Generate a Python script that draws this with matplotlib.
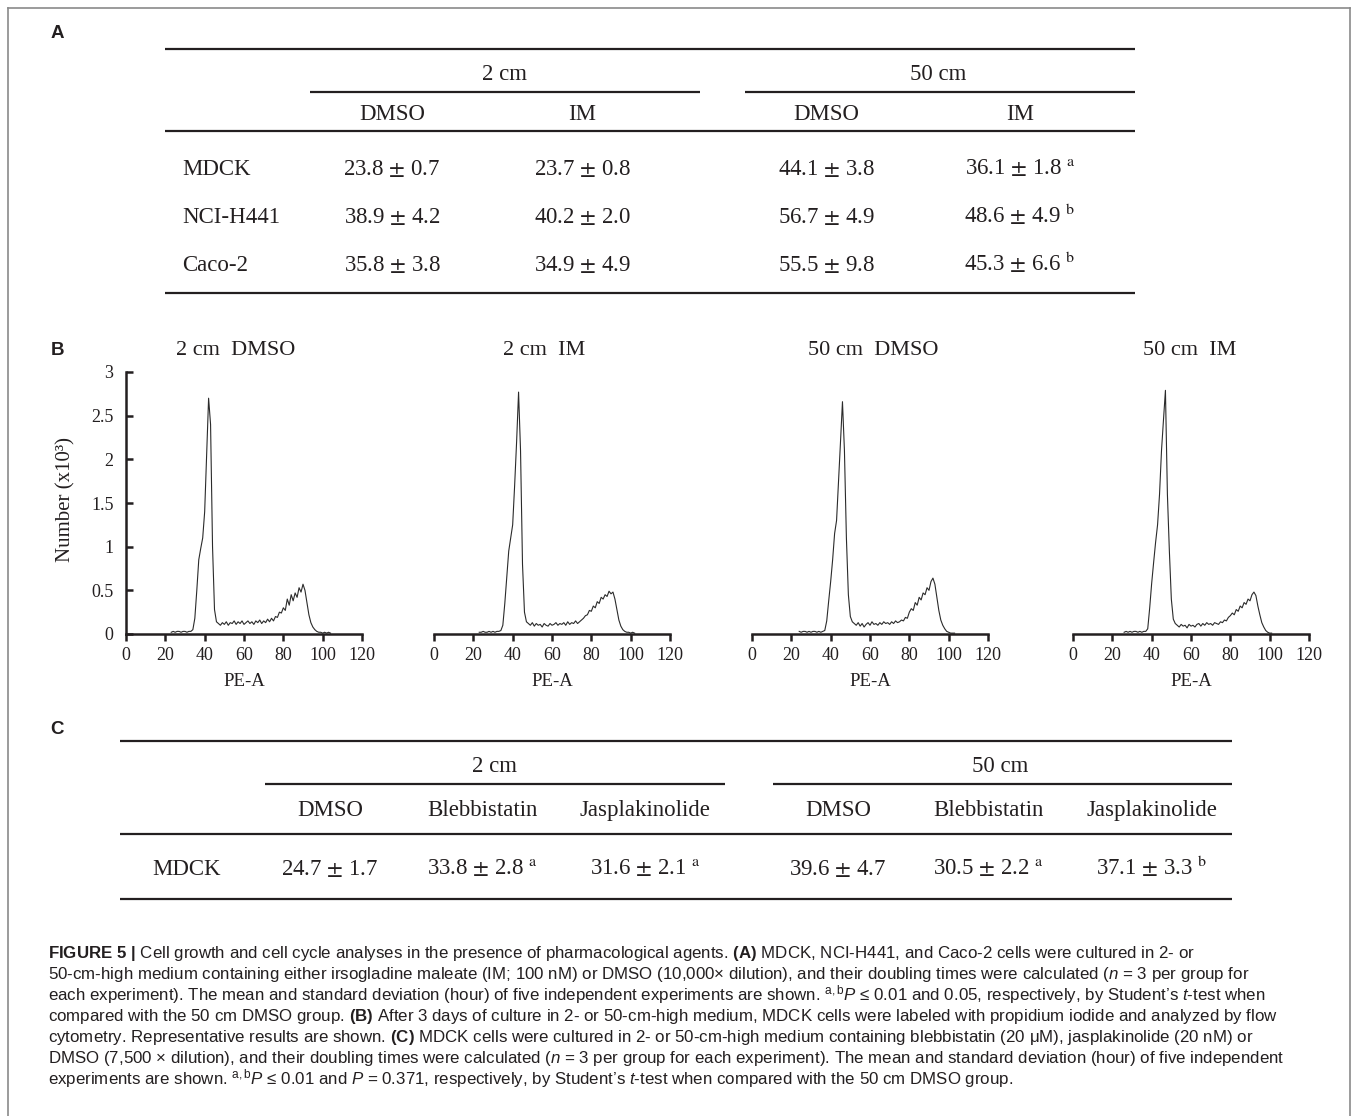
import numpy as np
import matplotlib
matplotlib.use('Agg')
from matplotlib import pyplot as plt
from matplotlib import font_manager
from matplotlib.lines import Line2D

W, H = 1357, 1116
ink = '#231f20'

# ---- A: doubling times (hour), mean and SD ----
cells_a = ['MDCK', 'NCI-H441', 'Caco-2']
heights = ['2 cm', '50 cm']
drugs_a = ['DMSO', 'IM', 'DMSO', 'IM']
means_a = [[23.8, 23.7, 44.1, 36.1],
           [38.9, 40.2, 56.7, 48.6],
           [35.8, 34.9, 55.5, 45.3]]
sds_a = [[0.7, 0.8, 3.8, 1.8],
         [4.2, 2.0, 4.9, 4.9],
         [3.8, 4.9, 9.8, 6.6]]
marks_a = [['', '', '', 'a'],
           ['', '', '', 'b'],
           ['', '', '', 'b']]

# ---- B: flow cytometry histograms (Number x10^3 vs PE-A) ----
hist_titles = ['2 cm  DMSO', '2 cm  IM', '50 cm  DMSO', '50 cm  IM']
pe_start = [23, 23, 24, 26]
counts_2dmso = [0.02, 0.03, 0.02, 0.03, 0.03, 0.02, 0.03, 0.03, 0.02, 0.03,
                0.03, 0.05, 0.18, 0.50, 0.85, 0.98, 1.10, 1.40, 2.05, 2.70,
                2.40, 1.00, 0.28, 0.14, 0.12, 0.10, 0.13, 0.11, 0.14, 0.10,
                0.13, 0.12, 0.15, 0.11, 0.14, 0.12, 0.15, 0.11, 0.13, 0.15,
                0.12, 0.14, 0.11, 0.15, 0.13, 0.16, 0.12, 0.15, 0.13, 0.17,
                0.14, 0.18, 0.15, 0.20, 0.19, 0.25, 0.24, 0.30, 0.27, 0.40,
                0.33, 0.45, 0.38, 0.47, 0.42, 0.53, 0.48, 0.57, 0.50, 0.36,
                0.22, 0.13, 0.08, 0.05, 0.03, 0.02, 0.02, 0.01, 0.02, 0.01,
                0.02, 0.01]
counts_2im = [0.02, 0.02, 0.03, 0.02, 0.02, 0.03, 0.02, 0.03, 0.02, 0.03,
              0.03, 0.04, 0.10, 0.35, 0.65, 0.95, 1.10, 1.25, 1.70, 2.20,
              2.77, 2.10, 0.80, 0.25, 0.14, 0.12, 0.10, 0.13, 0.09, 0.12,
              0.10, 0.11, 0.08, 0.12, 0.10, 0.09, 0.12, 0.10, 0.11, 0.13,
              0.10, 0.12, 0.11, 0.13, 0.10, 0.14, 0.11, 0.13, 0.12, 0.15,
              0.12, 0.14, 0.16, 0.18, 0.21, 0.22, 0.27, 0.26, 0.32, 0.30,
              0.37, 0.35, 0.42, 0.40, 0.45, 0.43, 0.49, 0.46, 0.48, 0.40,
              0.28, 0.16, 0.09, 0.05, 0.03, 0.02, 0.02, 0.01, 0.02, 0.01]
counts_50dmso = [0.03, 0.02, 0.03, 0.03, 0.02, 0.03, 0.02, 0.03, 0.03, 0.02,
                 0.03, 0.02, 0.03, 0.04, 0.15, 0.38, 0.60, 0.85, 1.15, 1.30,
                 1.75, 2.20, 2.66, 2.10, 1.10, 0.45, 0.20, 0.14, 0.12, 0.10,
                 0.13, 0.09, 0.12, 0.08, 0.11, 0.13, 0.10, 0.14, 0.11, 0.12,
                 0.10, 0.13, 0.11, 0.14, 0.12, 0.13, 0.11, 0.14, 0.12, 0.15,
                 0.13, 0.14, 0.16, 0.15, 0.19, 0.18, 0.25, 0.29, 0.27, 0.36,
                 0.33, 0.42, 0.39, 0.47, 0.45, 0.53, 0.50, 0.60, 0.64, 0.57,
                 0.42, 0.27, 0.16, 0.10, 0.06, 0.03, 0.02, 0.01, 0.01, 0.01]
counts_50im = [0.02, 0.03, 0.02, 0.03, 0.02, 0.03, 0.03, 0.02, 0.03, 0.02,
               0.03, 0.03, 0.06, 0.30, 0.58, 0.82, 1.05, 1.25, 1.60, 2.10,
               2.45, 2.79, 1.60, 0.95, 0.40, 0.17, 0.12, 0.10, 0.08, 0.11,
               0.09, 0.10, 0.07, 0.11, 0.09, 0.10, 0.08, 0.11, 0.12, 0.09,
               0.12, 0.10, 0.13, 0.11, 0.12, 0.10, 0.13, 0.12, 0.11, 0.14,
               0.13, 0.16, 0.15, 0.19, 0.21, 0.24, 0.22, 0.28, 0.26, 0.32,
               0.30, 0.36, 0.34, 0.40, 0.38, 0.45, 0.48, 0.44, 0.32, 0.22,
               0.13, 0.08, 0.04, 0.02, 0.01, 0.01]
hist_counts = [counts_2dmso, counts_2im, counts_50dmso, counts_50im]
y_ticks = [0, 0.5, 1, 1.5, 2, 2.5, 3]
y_ticklabels = ['0', '0.5', '1', '1.5', '2', '2.5', '3']
x_ticks = [0, 20, 40, 60, 80, 100, 120]

# ---- C: MDCK doubling times with blebbistatin / jasplakinolide ----
drugs_c = ['DMSO', 'Blebbistatin', 'Jasplakinolide'] * 2
means_c = [24.7, 33.8, 31.6, 39.6, 30.5, 37.1]
sds_c = [1.7, 2.8, 2.1, 4.7, 2.2, 3.3]
marks_c = ['', 'a', 'a', '', 'a', 'b']

caption = [
    r'$\mathbf{FIGURE\ 5\ |}$ Cell growth and cell cycle analyses in the presence of pharmacological agents. '
    r'$\mathbf{(A)}$ MDCK, NCI-H441, and Caco-2 cells were cultured in 2- or',
    r'50-cm-high medium containing either irsogladine maleate (IM; 100 nM) or DMSO (10,000× dilution), '
    r'and their doubling times were calculated ($n$ = 3 per group for',
    r'each experiment). The mean and standard deviation (hour) of five independent experiments are shown. '
    r'$^{\mathrm{a,b}}P$ ≤ 0.01 and 0.05, respectively, by Student’s $t$-test when',
    r'compared with the 50 cm DMSO group. $\mathbf{(B)}$ After 3 days of culture in 2- or 50-cm-high medium, '
    r'MDCK cells were labeled with propidium iodide and analyzed by flow',
    r'cytometry. Representative results are shown. $\mathbf{(C)}$ MDCK cells were cultured in 2- or '
    r'50-cm-high medium containing blebbistatin (20 μM), jasplakinolide (20 nM) or',
    r'DMSO (7,500 × dilution), and their doubling times were calculated ($n$ = 3 per group for each '
    r'experiment). The mean and standard deviation (hour) of five independent',
    r'experiments are shown. $^{\mathrm{a,b}}P$ ≤ 0.01 and $P$ = 0.371, respectively, by Student’s '
    r'$t$-test when compared with the 50 cm DMSO group.',
]

names = {f.name for f in font_manager.fontManager.ttflist}
cap_font = 'Liberation Sans Narrow' if 'Liberation Sans Narrow' in names else 'Liberation Sans'
plt.rcParams['font.family'] = ['Liberation Serif', 'DejaVu Serif']
plt.rcParams['mathtext.fontset'] = 'custom'
plt.rcParams['mathtext.rm'] = cap_font
plt.rcParams['mathtext.it'] = cap_font + ':italic'
plt.rcParams['mathtext.bf'] = cap_font + ':bold'

fig = plt.figure(figsize=(W / 100, H / 100), dpi=100)


def fx(px):
    return px / W


def fy(py):
    return 1 - py / H


def rule(x0, x1, y, lw=1.6, color=ink):
    fig.add_artist(Line2D([fx(x0), fx(x1)], [fy(y), fy(y)], transform=fig.transFigure,
                          color=color, lw=lw, solid_capstyle='butt'))


def put(x, y, s, size=16.5, **kw):
    kw.setdefault('ha', 'center')
    kw.setdefault('va', 'baseline')
    fig.text(fx(x), fy(y), s, fontsize=size, color=ink, math_fontfamily='stix', **kw)


def cell(m, sd, mk):
    s = f'{m:.1f} ' + r'$\pm$' + f' {sd:.1f}'
    if mk:
        s += r' $^{\mathrm{' + mk + '}}$'
    return s


# frame
frame = '#8a8a8a'
fig.add_artist(Line2D([fx(8), fx(8)], [fy(8), -0.05], transform=fig.transFigure, color=frame, lw=1.2))
fig.add_artist(Line2D([fx(1350), fx(1350)], [fy(8), -0.05], transform=fig.transFigure, color=frame, lw=1.2))
fig.add_artist(Line2D([fx(8), fx(1350)], [fy(8), fy(8)], transform=fig.transFigure, color=frame, lw=1.2))

# panel letters
for lab, y in zip(['A', 'B', 'C'], [33, 351, 729]):
    fig.text(fx(57), fy(y), lab, fontsize=13.5, family='Liberation Sans', weight='bold',
             color=ink, ha='center', va='center')

# ---- table A ----
col_a = [392, 582, 826, 1020]
rule(165, 1135, 49)
rule(310, 700, 92)
rule(745, 1135, 92)
rule(165, 1135, 131)
rule(165, 1135, 293)
put(505, 80, heights[0])
put(938, 80, heights[1])
for x, d in zip(col_a, drugs_a):
    put(x, 120, d)
for r, (name, y) in enumerate(zip(cells_a, [167, 215, 263])):
    put(182, y + 8, name, ha='left')
    for c, x in enumerate(col_a):
        put(x, y + 8, cell(means_a[r][c], sds_a[r][c], marks_a[r][c]))

# ---- histograms B ----
lefts = [126, 434, 752, 1073]
titles_x = [236, 544, 873, 1190]
for i in range(4):
    ax = fig.add_axes([fx(lefts[i]), fy(634), 236 / W, (634 - 372) / H])
    pe = pe_start[i] + np.arange(len(hist_counts[i]))
    ax.plot(pe, hist_counts[i], color='#2b2b2b', lw=0.8)
    ax.set_xlim(0, 120)
    ax.set_ylim(0, 3)
    for s in ['top', 'right']:
        ax.spines[s].set_visible(False)
    for s in ['left', 'bottom']:
        ax.spines[s].set_linewidth(1.8)
        ax.spines[s].set_color(ink)
    ax.set_xticks(x_ticks)
    ax.tick_params(axis='x', direction='out', length=5, width=1.8, labelsize=13,
                   pad=4, colors=ink)
    if i == 0:
        ax.set_yticks(y_ticks)
        ax.set_yticklabels(y_ticklabels)
        ax.tick_params(axis='y', direction='in', length=5, width=1.8, labelsize=13,
                       pad=9, colors=ink)
    else:
        ax.spines['left'].set_visible(False)
        ax.set_yticks([])
    ax.patch.set_visible(False)
    put(titles_x[i], 351, hist_titles[i], size=16, va='center')
    put(lefts[i] + 118, 681, 'PE-A', size=13.5, va='center')
put(66, 500, 'Number (x10³)', size=15, va='center', rotation=90)

# ---- table C ----
col_c = [330, 482, 645, 838, 988, 1152]
rule(120, 1232, 741)
rule(265, 725, 784)
rule(773, 1232, 784)
rule(120, 1232, 834)
rule(120, 1232, 899)
put(495, 772, heights[0])
put(1000, 772, heights[1])
for x, d in zip(col_c, drugs_c):
    put(x, 816, d)
put(152, 875, 'MDCK', ha='left')
for x, m, sd, mk in zip(col_c, means_c, sds_c, marks_c):
    put(x, 875, cell(m, sd, mk))

# ---- caption ----
for k, line in enumerate(caption):
    fig.text(fx(48), fy(958 + 21 * k), line, fontsize=12.2, family=cap_font, color=ink,
             ha='left', va='baseline', math_fontfamily='custom')

fig.savefig('out.png', dpi=100)
